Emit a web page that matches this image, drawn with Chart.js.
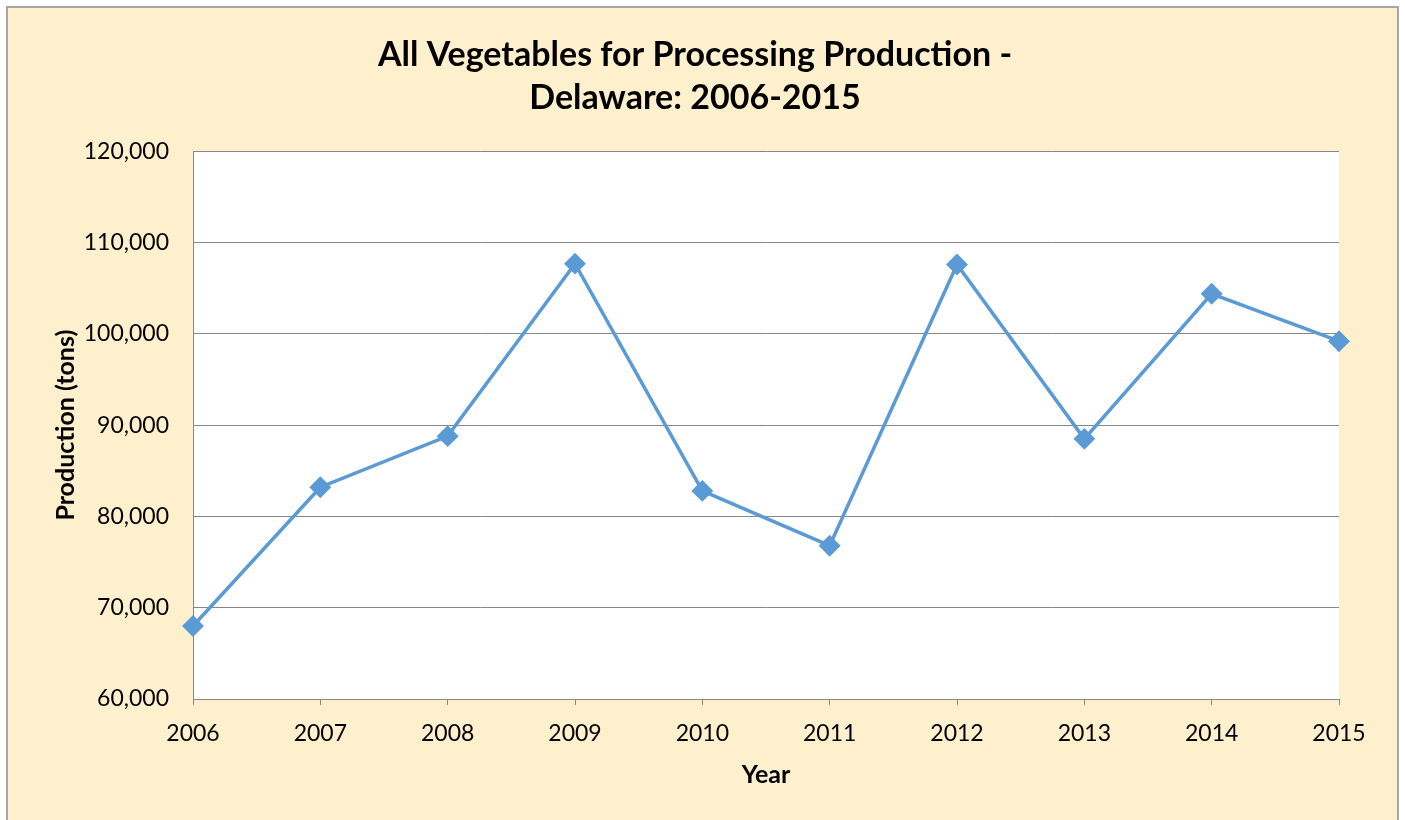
<!DOCTYPE html>
<html>
<head>
<meta charset="utf-8">
<script src="https://cdn.jsdelivr.net/npm/chart.js@4/dist/chart.umd.min.js"></script>
<style>
body{margin:0;background:#fff;}
#frame{position:absolute;left:6px;top:6px;width:1393px;height:830px;box-sizing:border-box;border:2px solid #a6a6a6;background:#fff0cd;}
#wrap{position:absolute;left:8px;top:8px;width:1388px;height:812px;}
</style>
</head>
<body>
<div id="frame"></div>
<div id="wrap"><canvas id="mcnv"></canvas></div>
<script>
var years = ['2006','2007','2008','2009','2010','2011','2012','2013','2014','2015'];
var production = [68000, 83200, 88800, 107700, 82800, 76800, 107600, 88500, 104400, 99200];
var chartTitle = ['All Vegetables for Processing Production -', 'Delaware: 2006-2015'];

var plotBg = {
	id: 'plotBg',
	beforeDraw: function(c){
		var a = c.chartArea;
		c.ctx.save();
		c.ctx.fillStyle = '#ffffff';
		c.ctx.fillRect(a.left, a.top, a.right - a.left, a.bottom - a.top);
		c.ctx.restore();
	}
};

var ctx = document.getElementById('mcnv');
var lgj = new Chart(ctx, {
	type: 'line',
	data: {
		labels: years,
		datasets: [{
			label: 'Production',
			data: production,
			borderColor: '#5b9bd5',
			backgroundColor: '#5b9bd5',
			borderWidth: 3.5,
			pointStyle: 'rectRot',
			pointRadius: 8.5,
			pointHoverRadius: 8.5,
			lineTension: 0,
			fill: false
		}]
	},
	options: {
		responsive: true,
		maintainAspectRatio: false,
		animation: false,
		layout: {padding: {left: 43, right: 57, top: 0, bottom: 30}},
		plugins: {
			legend: {display: false},
			tooltip: {enabled: false},
			title: {
				display: true,
				text: chartTitle,
				color: '#000',
				font: {family: 'Lato', size: 34, weight: 'bold', lineHeight: 1.27},
				padding: {top: 25, bottom: 32}
			}
		},
		scales: {
			x: {
				offset: false,
				grid: {display: true, drawOnChartArea: false, drawTicks: true, tickLength: 6, color: '#868686'},
				border: {display: true, color: '#868686'},
				ticks: {color: '#000', font: {family: 'Lato', size: 23}, padding: 15, maxRotation: 0},
				title: {display: true, text: 'Year', color: '#000', font: {family: 'Lato', size: 25, weight: 'bold'}, padding: 0},
				afterFit: function(s){ s.height = 91; }
			},
			y: {
				min: 60000,
				max: 120000,
				ticks: {
					stepSize: 10000,
					color: '#000',
					font: {family: 'Lato', size: 23},
					padding: 24,
					callback: function(v){ return v.toLocaleString('en-US'); }
				},
				grid: {color: '#868686', drawTicks: false},
				border: {display: true, color: '#868686'},
				title: {display: true, text: 'Production (tons)', color: '#000', font: {family: 'Lato', size: 25, weight: 'bold'}, padding: 0},
				afterFit: function(s){ s.width = 142; }
			}
		}
	},
	plugins: [plotBg]
});
</script>
</body>
</html>
